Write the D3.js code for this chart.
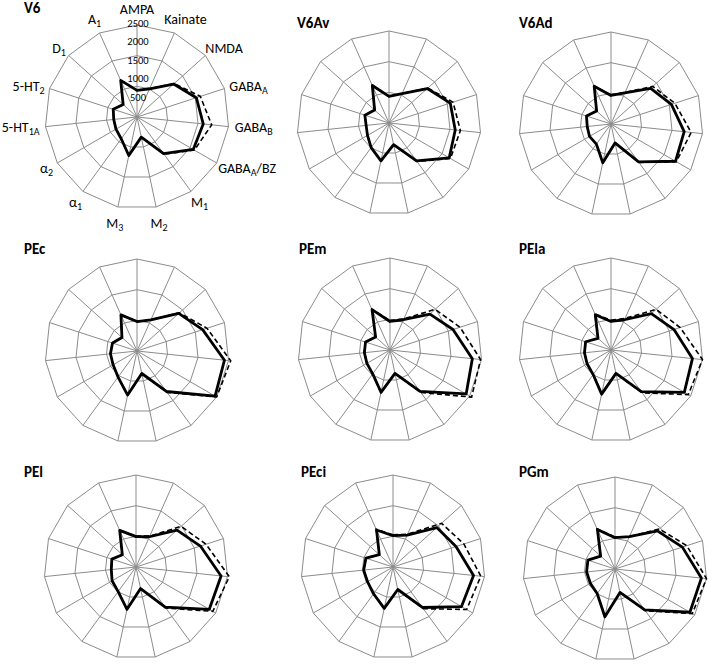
<!DOCTYPE html>
<html>
<head>
<meta charset="utf-8">
<script src="https://cdn.jsdelivr.net/npm/d3@7"></script>
<style>
  body { margin: 0; background: #fff; }
  text { font-family: Carlito, Calibri, Lato, "Open Sans", sans-serif; fill: #000; }
</style>
</head>
<body>
<svg id="chart" width="708" height="664"></svg>
<script>
// receptor axes, clockwise from the top; each part is [text, isSubscript]
var receptors = [
  [["AMPA", 0]], [["Kainate", 0]], [["NMDA", 0]],
  [["GABA", 0], ["A", 1]], [["GABA", 0], ["B", 1]], [["GABA", 0], ["A", 1], ["/BZ", 0]],
  [["M", 0], ["1", 1]], [["M", 0], ["2", 1]], [["M", 0], ["3", 1]],
  [["α", 0], ["1", 1]], [["α", 0], ["2", 1]],
  [["5-HT", 0], ["1A", 1]], [["5-HT", 0], ["2", 1]],
  [["D", 0], ["1", 1]], [["A", 0], ["1", 1]]
];

var areas = ["V6", "V6Av", "V6Ad", "PEc", "PEm", "PEla", "PEl", "PEci", "PGm"];

var tickValues = [500, 1000, 1500, 2000, 2500];
var maxValue = 2500;

// solid line, one row per area, same order as receptors
var solidValues = [
  [725, 840, 1340, 1695, 1810, 1765, 1230, 560, 1070, 730, 660, 635, 680, 505, 1090],
  [725, 875, 1400, 1750, 1810, 1890, 1275, 600, 1050, 825, 675, 625, 690, 525, 1115],
  [775, 925, 1450, 1725, 2000, 2025, 1275, 525, 1075, 675, 675, 650, 700, 525, 1125],
  [800, 925, 1525, 1875, 2390, 2450, 1360, 625, 1225, 875, 750, 725, 700, 550, 1075],
  [775, 900, 1460, 1800, 2250, 2390, 1390, 650, 1175, 800, 725, 700, 700, 525, 1200],
  [775, 900, 1475, 1800, 2225, 2300, 1400, 650, 1225, 825, 750, 725, 725, 475, 1050],
  [825, 900, 1500, 1840, 2325, 2300, 1350, 600, 1175, 825, 750, 675, 690, 500, 1090],
  [850, 950, 1600, 1800, 2200, 2150, 1360, 625, 1150, 900, 800, 800, 775, 500, 1100],
  [850, 960, 1550, 1925, 2360, 2350, 1375, 650, 1325, 825, 775, 775, 775, 525, 1175]
];

// dashed line
var dashedValues = [
  [725, 840, 1360, 1810, 2040, 1800, 1250, 560, 1070, 730, 660, 635, 680, 505, 1090],
  [725, 875, 1420, 1830, 1950, 1930, 1290, 600, 1050, 825, 675, 625, 690, 525, 1115],
  [790, 940, 1525, 1825, 2190, 2050, 1290, 525, 1075, 675, 675, 650, 700, 525, 1125],
  [800, 925, 1550, 2000, 2560, 2500, 1390, 625, 1225, 875, 750, 725, 700, 550, 1075],
  [800, 925, 1650, 2000, 2475, 2560, 1425, 650, 1175, 800, 725, 700, 700, 525, 1210],
  [810, 940, 1650, 1975, 2500, 2425, 1440, 650, 1225, 825, 750, 725, 725, 475, 1075],
  [840, 920, 1650, 2000, 2550, 2410, 1380, 600, 1175, 825, 750, 675, 690, 500, 1100],
  [875, 975, 1775, 2025, 2400, 2310, 1400, 625, 1150, 900, 800, 800, 775, 500, 1125],
  [870, 960, 1625, 2050, 2500, 2425, 1400, 650, 1325, 825, 775, 775, 775, 525, 1190]
];

// layout of the 3x3 panels
var R = 92;
var cells = [
  { cx: 137, cy: 117, tx: 24,  ty: 13 },
  { cx: 389, cy: 123, tx: 297, ty: 28 },
  { cx: 611, cy: 124, tx: 519, ty: 28 },
  { cx: 137, cy: 351, tx: 24,  ty: 254 },
  { cx: 390, cy: 350, tx: 299, ty: 254 },
  { cx: 611, cy: 350, tx: 519, ty: 254 },
  { cx: 136, cy: 567, tx: 24,  ty: 477 },
  { cx: 393, cy: 567, tx: 301, ty: 477 },
  { cx: 615, cy: 569, tx: 519, ty: 477 }
];

var svg = d3.select("#chart");
var n = receptors.length;
var angle = d3.scaleLinear().domain([0, n]).range([0, 2 * Math.PI]);
var r = d3.scaleLinear().domain([0, maxValue]).range([0, R]);
var gridLevels = [maxValue / 3, maxValue * 2 / 3, maxValue];

var radar = d3.lineRadial()
  .angle(function(d, i) { return angle(i); })
  .radius(function(d) { return r(d); })
  .curve(d3.curveLinearClosed);

areas.forEach(function(name, k) {
  var c = cells[k];
  var g = svg.append("g").attr("transform", "translate(" + c.cx + "," + c.cy + ")");

  // web
  gridLevels.forEach(function(lv) {
    g.append("path")
      .attr("d", radar(d3.range(n).map(function() { return lv; })))
      .attr("fill", "none").attr("stroke", "#8c8c8c").attr("stroke-width", 1);
  });
  d3.range(n).forEach(function(i) {
    var a = angle(i);
    g.append("line")
      .attr("x1", 0).attr("y1", 0)
      .attr("x2", Math.sin(a) * r(maxValue)).attr("y2", -Math.cos(a) * r(maxValue))
      .attr("stroke", "#8c8c8c").attr("stroke-width", 1);
  });

  // series
  g.append("path")
    .attr("d", radar(solidValues[k]))
    .attr("fill", "none").attr("stroke", "#000").attr("stroke-width", 2.8)
    .attr("stroke-linejoin", "round");
  g.append("path")
    .attr("d", radar(dashedValues[k]))
    .attr("fill", "none").attr("stroke", "#000").attr("stroke-width", 1.6)
    .attr("stroke-dasharray", "5,3");

  // panel title
  svg.append("text")
    .attr("x", c.tx).attr("y", c.ty)
    .attr("font-size", 15).attr("font-weight", "bold")
    .text(name);

  // only the first panel carries the axis labels and ticks
  if (k === 0) {
    tickValues.forEach(function(v) {
      g.append("text")
        .attr("x", 1).attr("y", -r(v) - 1.5)
        .attr("text-anchor", "middle").attr("dominant-baseline", "central")
        .attr("font-size", 10.5)
        .text(v);
    });

    receptors.forEach(function(parts, i) {
      var a = angle(i);
      var lab = g.append("text")
        .attr("font-size", 14)
        .attr("text-anchor", "middle")
        .attr("dominant-baseline", "central");
      var shifted = false;
      parts.forEach(function(p) {
        var t = lab.append("tspan").text(p[0]);
        if (p[1]) { t.attr("font-size", 10).attr("dy", 4); shifted = true; }
        else if (shifted) { t.attr("dy", -4); shifted = false; }
      });
      var w = lab.node().getBBox().width;
      var s = Math.sin(a), co = Math.cos(a);
      // box sits next to the spoke end, pushed out more at top and bottom
      var vx = s * R, vy = -co * R;
      lab.attr("x", vx + s * (w / 2 + 6))
         .attr("y", vy - co * (7 + 9.5 * co * co));
    });
  }
});
</script>
</body>
</html>
